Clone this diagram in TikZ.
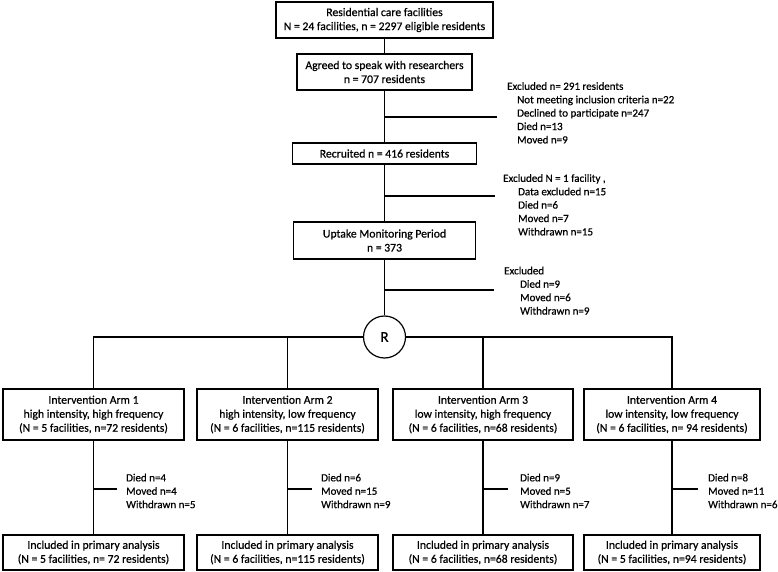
\documentclass[tikz,border=0pt]{standalone}
\usepackage{fontspec}
\setmainfont[BoldFont=Carlito, BoldFeatures={FakeBold=0.6}]{Carlito}
\newcommand\bxfont{\fontsize{11.7}{14}\selectfont\bfseries}
\newcommand\sdfont{\fontsize{11}{13.4}\selectfont\bfseries}
\begin{document}
\begin{tikzpicture}[x=1pt,y=-1pt,
  box/.style={draw, line width=1.2pt, align=center, inner sep=0pt, font=\bxfont},
  side/.style={anchor=north west, align=left, inner sep=0pt, font=\sdfont},
  ln/.style={line width=1.2pt}]
\useasboundingbox (0,0) rectangle (778,572);
% main column
\node[box, minimum width=217pt, minimum height=36pt] (top) at (384.5,20) {Residential care facilities\\N = 24 facilities, n = 2297 eligible residents};
\node[box, minimum width=175pt, minimum height=36pt] (agr) at (384.5,72) {Agreed to speak with researchers\\n = 707 residents};
\node[box, minimum width=184pt, minimum height=21pt] (rec) at (384.5,153.5) {Recruited n = 416 residents};
\node[box, minimum width=182pt, minimum height=37pt] (upt) at (384.5,240.5) {Uptake Monitoring Period\\n = 373};
\node[draw, line width=1.2pt, circle, minimum size=42pt, inner sep=0pt, font=\fontsize{15}{18}\selectfont\bfseries] (R) at (384.5,337) {R};
\draw[ln] (top) -- (agr);
\draw[ln] (agr) -- (rec);
\draw[ln] (rec) -- (upt);
\draw[ln] (upt) -- (R);
\coordinate (b1) at (384.5,117); \coordinate (e1) at (497,117);
\coordinate (b2) at (384.5,196); \coordinate (e2) at (495,196);
\coordinate (b3) at (384.5,290); \coordinate (e3) at (494,290);
\draw[ln] (b1) -- (e1);
\draw[ln] (b2) -- (e2);
\draw[ln] (b3) -- (e3);
\node[side] (x1) at (507,82) {Excluded n= 291 residents\\
\hspace*{10pt}Not meeting inclusion criteria n=22\\
\hspace*{10pt}Declined to participate n=247\\
\hspace*{10pt}Died n=13\\
\hspace*{10pt}Moved n=9};
\node[side] (x2) at (503,174) {Excluded N = 1 facility ,\\
\hspace*{15pt}Data excluded n=15\\
\hspace*{15pt}Died n=6\\
\hspace*{15pt}Moved n=7\\
\hspace*{15pt}Withdrawn n=15};
\node[side] (x3) at (504,266.5) {Excluded\\
\hspace*{16pt}Died n=9\\
\hspace*{16pt}Moved n=6\\
\hspace*{16pt}Withdrawn n=9};
% arms
\node[box, minimum width=181pt, minimum height=51pt] (a1) at (93.5,414.5) {Intervention Arm 1\\high intensity, high frequency\\(N = 5 facilities, n=72 residents)};
\node[box, minimum width=181pt, minimum height=51pt] (a2) at (287.5,414.5) {Intervention Arm 2\\high intensity, low frequency\\(N = 6 facilities, n=115 residents)};
\node[box, minimum width=180pt, minimum height=51pt] (a3) at (483,414.5) {Intervention Arm 3\\low intensity, high frequency\\(N = 6 facilities, n=68 residents)};
\node[box, minimum width=176pt, minimum height=51pt] (a4) at (672,414.5) {Intervention Arm 4\\low intensity, low frequency\\(N = 6 facilities, n= 94 residents)};
\draw[ln] (R.west) -| (a1.north);
\draw[ln] (R.west) -| (a2.north);
\draw[ln] (R.east) -| (a3.north);
\draw[ln] (R.east) -| (a4.north);
\node[box, minimum width=181pt, minimum height=35pt] (i1) at (93.5,552.5) {Included in primary analysis\\(N = 5 facilities, n= 72 residents)};
\node[box, minimum width=181pt, minimum height=35pt] (i2) at (287.5,552.5) {Included in primary analysis\\(N = 6 facilities, n=115 residents)};
\node[box, minimum width=180pt, minimum height=35pt] (i3) at (483,552.5) {Included in primary analysis\\(N = 6 facilities, n=68 residents)};
\node[box, minimum width=176pt, minimum height=35pt] (i4) at (672,552.5) {Included in primary analysis\\(N = 5 facilities, n=94 residents)};
\draw[ln] (a1) -- (i1);
\draw[ln] (a2) -- (i2);
\draw[ln] (a3) -- (i3);
\draw[ln] (a4) -- (i4);
\coordinate (c1) at (93.5,489); \coordinate (d1) at (117,489);
\coordinate (c2) at (287.5,489); \coordinate (d2) at (312,489);
\coordinate (c3) at (483,489); \coordinate (d3) at (508,489);
\coordinate (c4) at (672,489); \coordinate (d4) at (698,489);
\draw[ln] (c1) -- (d1);
\draw[ln] (c2) -- (d2);
\draw[ln] (c3) -- (d3);
\draw[ln] (c4) -- (d4);
\node[side] (t1) at (126,473.5) {Died n=4\\Moved n=4\\Withdrawn n=5};
\node[side] (t2) at (321,473.5) {Died n=6\\Moved n=15\\Withdrawn n=9};
\node[side] (t3) at (520,473.5) {Died n=9\\Moved n=5\\Withdrawn n=7};
\node[side] (t4) at (708,473.5) {Died n=8\\Moved n=11\\Withdrawn n=6};
\end{tikzpicture}
\end{document}
